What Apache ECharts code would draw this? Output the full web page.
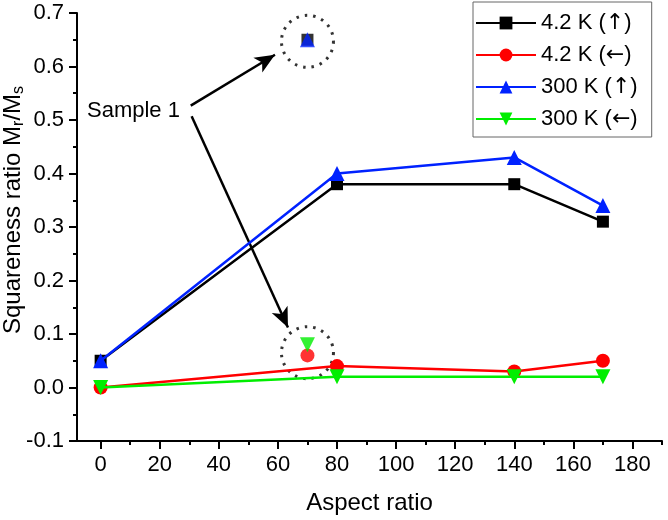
<!DOCTYPE html>
<html><head><meta charset="utf-8">
<script src="https://cdn.jsdelivr.net/npm/echarts@6/dist/echarts.min.js"></script>
<style>html,body{margin:0;padding:0;background:#fff}#c{width:668px;height:520px}</style>
</head><body><div id="c"></div>
<script>
// ---- data ----
const seriesNames = ['4.2 K (\u2191)', '4.2 K (\u2190)', '300 K (\u2191)', '300 K (\u2190)'];
const aspectRatio = [0, 80, 140, 170];
const black42Up = [0.05, 0.38, 0.38, 0.31];
const red42Left = [0.00, 0.04, 0.03, 0.05];
const blue300Up = [0.05, 0.40, 0.43, 0.34];
const green300Left = [0.00, 0.02, 0.02, 0.02];
const sample1X = [70];
const sample1Black = [0.65];
const sample1Red = [0.06];
const sample1Blue = [0.65];
const sample1Green = [0.08];
const xTickLabels = [0, 20, 40, 60, 80, 100, 120, 140, 160, 180];
const xMinorTicks = [10, 30, 50, 70, 90, 110, 130, 150, 170, 190];
// annotation geometry in data units
const circleCenters = [[70, 0.647], [70, 0.065]];
const arrows = [[[30.5, 0.527], [59, 0.622]], [[30.8, 0.507], [63.4, 0.112]]];

const colors = ['#000000', '#ff0000', '#0022ff', '#00ee00'];
const symbols = ['rect', 'circle', 'triangle', 'path://M0,0 L10,0 L5,9 Z'];
const sizes = [12, 14, 15, 15];
const mainData = [black42Up, red42Left, blue300Up, green300Left];
const sampleData = [sample1Black, sample1Red, sample1Blue, sample1Green];

const font = 'Liberation Sans, Arial, sans-serif';
const series = [];
series.push({
  type: 'scatter', name: 'circles', silent: true, z: 1,
  symbol: 'circle', symbolSize: 52,
  itemStyle: { color: 'transparent', borderColor: '#000', borderWidth: 3, borderType: [2.5, 6] },
  data: circleCenters,
  markLine: {
    silent: true, symbol: ['none', 'arrow'], symbolSize: [13, 20],
    label: { show: false },
    lineStyle: { color: '#000', width: 2.5, type: 'solid' },
    emphasis: { disabled: true },
    data: arrows.map(a => [{ coord: a[0] }, { coord: a[1] }])
  }
});
mainData.forEach((d, i) => {
  series.push({
    type: 'line', name: seriesNames[i], z: 3 + i,
    symbol: symbols[i], symbolSize: sizes[i],
    itemStyle: { color: colors[i] },
    lineStyle: { color: colors[i], width: 2.5 },
    data: aspectRatio.map((x, j) => [x, d[j]])
  });
});
sampleData.forEach((d, i) => {
  series.push({
    type: 'scatter', name: seriesNames[i] + ' sample 1', z: 3 + i,
    symbol: symbols[i], symbolSize: sizes[i],
    itemStyle: { color: colors[i] },
    data: sample1X.map((x, j) => [x, d[j]])
  });
});

const chart = echarts.init(document.getElementById('c'), null, { renderer: 'canvas' });
chart.setOption({
  animation: false,
  textStyle: { fontFamily: font },
  grid: { left: 77, right: 6, top: 13, bottom: 79, containLabel: false, outerBoundsMode: 'none' },
  legend: {
    data: seriesNames, orient: 'vertical', left: 473, top: 2,
    backgroundColor: '#fff', borderColor: '#666', borderWidth: 1,
    padding: [10, 14, 7, 2], itemGap: 10, itemWidth: 60, itemHeight: 16,
    formatter: n => n.replace(/([\u2190\u2191])/g, '{a|$1}'),
    textStyle: {
      fontSize: 22, fontFamily: font, color: '#000',
      rich: { a: { fontSize: 22, fontFamily: 'DejaVu Sans', color: '#000' } }
    }
  },
  xAxis: [{
    type: 'value', min: -8, max: 190, position: 'bottom',
    name: 'Aspect ratio', nameLocation: 'middle', nameGap: 50, nameMoveOverlap: false,
    nameTextStyle: { fontSize: 24, color: '#000', fontFamily: font },
    axisLine: { onZero: false, lineStyle: { color: '#000', width: 2 } },
    axisTick: { show: true, length: 8, lineStyle: { width: 2, color: '#000' }, customValues: xTickLabels },
    axisLabel: { fontSize: 22, color: '#000', margin: 13, customValues: xTickLabels },
    splitLine: { show: false }
  }, {
    type: 'value', min: -8, max: 190, position: 'bottom',
    axisLine: { show: false, onZero: false },
    axisTick: { show: true, length: 4, lineStyle: { width: 2, color: '#000' }, customValues: xMinorTicks },
    axisLabel: { show: false, customValues: xMinorTicks },
    splitLine: { show: false }
  }],
  yAxis: {
    type: 'value', min: -0.1, max: 0.7, interval: 0.1,
    name: 'Squareness ratio M{sub|r}/M{sub|s}', nameLocation: 'middle', nameGap: 50, nameMoveOverlap: false,
    nameTextStyle: {
      fontSize: 24, color: '#000', fontFamily: font, padding: [0, 0, 0, 34],
      rich: { sub: { fontSize: 16, color: '#000', fontFamily: font, verticalAlign: 'bottom', padding: [12, 0, 0, 0] } }
    },
    axisLine: { show: true, onZero: false, lineStyle: { color: '#000', width: 2 } },
    axisTick: { show: true, length: 8, lineStyle: { width: 2, color: '#000' } },
    minorTick: { show: true, splitNumber: 2, length: 4, lineStyle: { width: 2, color: '#000' } },
    axisLabel: { fontSize: 22, color: '#000', margin: 13, formatter: v => v.toFixed(1) },
    splitLine: { show: false }
  },
  graphic: [{
    type: 'text', left: 87, top: 100,
    style: { text: 'Sample 1', font: '22px ' + font, fill: '#000' }
  }],
  series: series
});
</script></body></html>
